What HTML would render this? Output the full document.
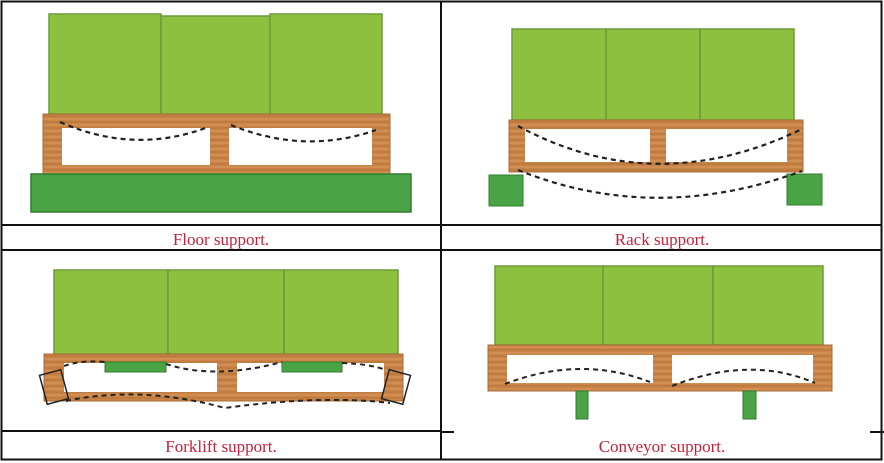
<!DOCTYPE html>
<html><head><style>
html,body{margin:0;padding:0;background:#fff;}
svg{display:block;}
text{font-family:"Liberation Serif",serif;font-size:17px;fill:#c8203c;}
</style></head><body>
<svg width="884" height="463" viewBox="0 0 884 463" xmlns="http://www.w3.org/2000/svg">
<defs>
<pattern id="wood" width="20" height="6" patternUnits="userSpaceOnUse">
<rect width="20" height="6" fill="#c98548"/>
<line x1="0" y1="2" x2="20" y2="2" stroke="#b67437" stroke-width="1"/>
<line x1="0" y1="5" x2="20" y2="5" stroke="#d6975c" stroke-width="1"/>
</pattern>
</defs>
<g fill="none" stroke="#111" stroke-width="2">
<rect x="1.5" y="1.5" width="880" height="458"/>
<line x1="441" y1="1" x2="441" y2="460"/>
<line x1="1" y1="225" x2="882" y2="225"/>
<line x1="1" y1="250" x2="882" y2="250"/>
<line x1="1" y1="431" x2="441" y2="431"/>
<line x1="441" y1="432" x2="454" y2="432"/>
<line x1="870" y1="432" x2="884" y2="432"/>
</g>

<!-- Panel 1 -->
<g stroke="#6f9a3a" stroke-width="1.5" fill="#8dc03f">
<rect x="49" y="14" width="112" height="100"/><rect x="161" y="16" width="109" height="98"/><rect x="270" y="14" width="112" height="100"/>
</g>
<rect x="43" y="114" width="347" height="60" fill="url(#wood)" stroke="#a86a36"/>
<rect x="62" y="128" width="148" height="37" fill="#fff"/>
<rect x="229" y="128" width="143" height="37" fill="#fff"/>
<rect x="31" y="174" width="380" height="38" fill="#4aa344" stroke="#2f7d2f" stroke-width="1.5"/>
<g fill="none" stroke="#222" stroke-width="2.2" stroke-dasharray="5,4">
<path d="M60 122 Q135 155 208 127"/><path d="M231 125 Q305 155 376 130"/>
</g>
<text x="221" y="245" text-anchor="middle">Floor support.</text>

<!-- Panel 2 -->
<g stroke="#6f9a3a" stroke-width="1.5" fill="#8dc03f">
<rect x="512" y="29" width="94" height="91"/><rect x="606" y="29" width="94" height="91"/><rect x="700" y="29" width="94" height="91"/>
</g>
<rect x="509" y="120" width="294" height="52" fill="url(#wood)" stroke="#a86a36"/>
<rect x="525" y="129" width="125" height="33" fill="#fff"/>
<rect x="666" y="129" width="121" height="33" fill="#fff"/>
<rect x="489" y="175" width="34" height="31" fill="#4aa344" stroke="#2f7d2f"/>
<rect x="787" y="174" width="35" height="31" fill="#4aa344" stroke="#2f7d2f"/>
<g fill="none" stroke="#222" stroke-width="2.2" stroke-dasharray="5,4">
<path d="M518 126 Q655 200 802 129"/><path d="M518 170 Q655 225 802 171"/>
</g>
<text x="662" y="245" text-anchor="middle">Rack support.</text>

<!-- Panel 3 -->
<g stroke="#6f9a3a" stroke-width="1.5" fill="#8dc03f">
<rect x="54" y="270" width="114" height="84"/><rect x="168" y="270" width="116" height="84"/><rect x="284" y="270" width="114" height="84"/>
</g>
<rect x="44" y="354" width="359" height="47" fill="url(#wood)" stroke="#a86a36"/>
<rect x="64" y="363" width="153" height="29" fill="#fff"/>
<rect x="237" y="363" width="147" height="29" fill="#fff"/>
<rect x="105" y="362" width="61" height="10" fill="#4aa344" stroke="#2f7d2f"/>
<rect x="282" y="362" width="60" height="10" fill="#4aa344" stroke="#2f7d2f"/>
<g fill="none" stroke="#222" stroke-width="2" stroke-dasharray="5,4">
<path d="M64 366 Q80 360 105 362"/><path d="M166 364 Q215 380 282 362"/><path d="M342 363 Q370 364 386 370"/>
<path d="M66 401 Q140 385 225 408 Q320 395 390 403"/>
</g>
<g fill="none" stroke="#222" stroke-width="1.5">
<rect x="43" y="372" width="22" height="30" transform="rotate(-15 54 387)"/>
<rect x="385" y="372" width="22" height="30" transform="rotate(15 396 387)"/>
</g>
<text x="221" y="452" text-anchor="middle">Forklift support.</text>

<!-- Panel 4 -->
<g stroke="#6f9a3a" stroke-width="1.5" fill="#8dc03f">
<rect x="495" y="266" width="108" height="79"/><rect x="603" y="266" width="110" height="79"/><rect x="713" y="266" width="110" height="79"/>
</g>
<rect x="488" y="345" width="344" height="46" fill="url(#wood)" stroke="#a86a36"/>
<rect x="507" y="355" width="146" height="28" fill="#fff"/>
<rect x="672" y="355" width="141" height="28" fill="#fff"/>
<rect x="576" y="391" width="12" height="28" fill="#4aa344" stroke="#2f7d2f"/>
<rect x="743" y="391" width="13" height="28" fill="#4aa344" stroke="#2f7d2f"/>
<g fill="none" stroke="#222" stroke-width="2" stroke-dasharray="5,4">
<path d="M505 384 Q580 355 650 382"/><path d="M672 386 Q750 355 815 383"/>
</g>
<text x="662" y="452" text-anchor="middle">Conveyor support.</text>
</svg>
</body></html>
